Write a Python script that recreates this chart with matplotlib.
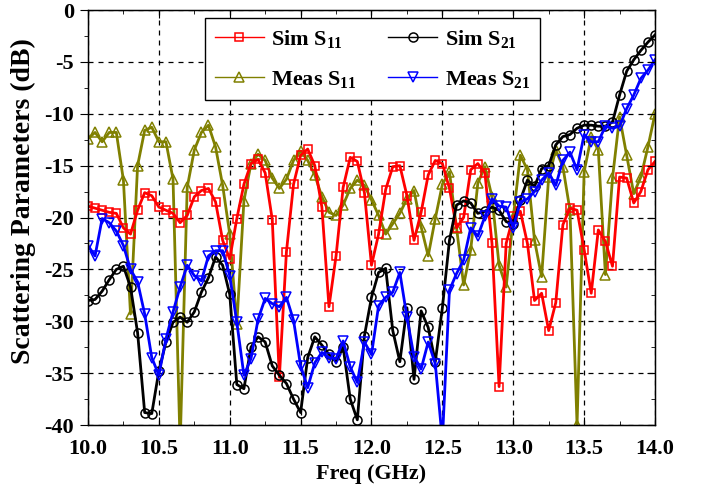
import numpy as np
import matplotlib
matplotlib.use("Agg")
import matplotlib.pyplot as plt

plt.rcParams["font.family"] = "Liberation Serif"
plt.rcParams["font.weight"] = "bold"
plt.rcParams["mathtext.fontset"] = "custom"
plt.rcParams["mathtext.rm"] = "Liberation Serif:bold"
plt.rcParams["mathtext.it"] = "Liberation Serif:bold"
plt.rcParams["mathtext.bf"] = "Liberation Serif:bold"
plt.rcParams["axes.unicode_minus"] = False

# frequency grid, 0.05 GHz step
freq = np.linspace(10.0, 14.0, 81)

sim_s11 = [
    -18.9, -19.1, -19.3, -19.5, -19.6, -21.0, -21.6, -19.3, -17.6, -17.9,
    -19.0, -19.3, -19.6, -20.5, -19.8, -18.0, -17.4, -17.2, -18.5, -22.2,
    -24.0, -20.1, -16.8, -14.8, -14.4, -15.7, -20.2, -35.4, -23.3, -16.8,
    -14.0, -13.4, -15.0, -19.0, -28.6, -23.7, -17.1, -14.2, -14.6, -17.6,
    -24.6, -21.6, -17.3, -15.1, -15.0, -17.9, -22.2, -19.5, -15.9, -14.5,
    -14.8, -17.2, -21.0, -20.0, -15.4, -14.8, -15.7, -22.5, -36.3, -22.5,
    -19.9, -19.4, -22.5, -28.0, -27.3, -30.9, -28.2, -20.7, -19.1, -19.3,
    -23.1, -27.3, -21.2, -22.3, -24.7, -16.1, -16.2, -18.6, -17.5, -15.4,
    -14.6,
]

meas_s11 = [
    -12.4, -11.8, -12.7, -11.8, -11.8, -16.4, -29.3, -15.0, -11.6, -11.3,
    -12.7, -12.7, -16.3, -42.0, -17.1, -13.5, -11.8, -11.1, -13.2, -16.9,
    -21.6, -30.3, -18.4, -14.8, -13.9, -14.5, -16.2, -17.2, -16.3, -14.5,
    -13.6, -14.5, -15.9, -18.0, -19.5, -19.8, -18.8, -17.2, -16.4, -16.9,
    -18.3, -19.8, -21.6, -20.6, -19.6, -18.2, -17.4, -20.9, -23.7, -20.1,
    -16.8, -15.6, -21.0, -26.5, -23.1, -16.7, -15.1, -18.0, -24.6, -26.7,
    -20.0, -14.0, -15.4, -22.2, -25.7, -16.1, -13.5, -15.1, -19.3, -40.0,
    -15.6, -12.2, -13.5, -25.5, -16.2, -10.3, -14.0, -17.7, -16.1, -13.2,
    -10.0,
]

sim_s21 = [
    -28.0, -27.9, -27.1, -26.0, -25.0, -24.7, -26.7, -31.1, -38.8, -38.9,
    -34.8, -32.0, -30.1, -29.6, -30.1, -29.1, -27.2, -25.8, -23.8, -24.6,
    -27.4, -36.1, -36.5, -32.5, -31.5, -32.0, -34.3, -35.2, -36.0, -37.5,
    -38.8, -33.5, -31.5, -32.3, -33.2, -33.9, -32.5, -37.5, -39.5, -31.4,
    -27.7, -25.3, -24.9, -30.9, -33.9, -28.7, -35.6, -29.0, -30.6, -33.9,
    -28.7, -22.2, -18.8, -18.4, -18.6, -19.6, -19.4, -19.0, -19.3, -20.4,
    -20.6, -18.3, -16.4, -17.0, -15.3, -15.0, -13.0, -12.2, -12.0, -11.4,
    -11.1, -11.1, -11.2, -11.2, -10.8, -8.2, -5.9, -4.8, -3.9, -3.1,
    -2.4,
]

meas_s21 = [
    -22.7, -23.7, -20.1, -20.5, -21.3, -22.7, -25.0, -26.2, -29.3, -33.5,
    -35.2, -31.7, -29.1, -26.7, -24.6, -25.6, -26.1, -23.7, -23.2, -23.2,
    -25.6, -30.1, -35.2, -33.6, -29.8, -27.8, -28.3, -28.6, -27.7, -29.9,
    -34.3, -36.4, -34.0, -33.0, -33.5, -33.6, -31.9, -34.4, -35.9, -32.0,
    -33.2, -28.5, -27.7, -27.2, -25.3, -29.6, -33.4, -34.6, -32.0, -34.1,
    -41.5, -27.0, -25.4, -24.1, -21.0, -21.8, -19.9, -18.2, -18.9, -19.0,
    -21.0, -18.5, -18.2, -17.5, -16.4, -15.7, -16.9, -14.5, -13.7, -15.4,
    -12.0, -12.7, -12.7, -11.2, -11.4, -11.2, -9.5, -8.2, -6.6, -5.8,
    -4.8,
]

fig = plt.figure(figsize=(7.01, 4.91), dpi=100)
ax = fig.add_axes([0.1255, 0.1344, 0.8089, 0.8452])

olive = "#808000"
h_ms11, = ax.plot(freq, meas_s11, "-^", color=olive, lw=2, ms=7.5, mfc="none",
                  mew=1.1, label="Meas S$_{11}$")
h_ss11, = ax.plot(freq, sim_s11, "-s", color="red", lw=2, ms=6, mfc="none",
                  mew=1.1, label="Sim S$_{11}$")
h_ss21, = ax.plot(freq, sim_s21, "-o", color="black", lw=2, ms=6.5, mfc="none",
                  mew=1.1, label="Sim S$_{21}$")
h_ms21, = ax.plot(freq, meas_s21, "-v", color="blue", lw=2, ms=7.5, mfc="none",
                  mew=1.1, label="Meas S$_{21}$")

ax.set_xlim(10, 14)
ax.set_ylim(-40, 0)
xt = np.arange(10, 14.01, 0.5)
ax.set_xticks(xt)
ax.set_xticks(np.arange(10, 14.01, 0.25), minor=True)
ax.set_yticks(np.arange(-40, 0.1, 5))
ax.set_yticks(np.arange(-40, 0.1, 2.5), minor=True)
ax.set_xticklabels([f"{v:.1f}" for v in xt])
ax.grid(True, which="major", ls=(0, (4, 4)), color="black", lw=0.9)

ax.tick_params(axis="x", which="both", direction="in", top=True,
               labelsize=16, pad=10)
ax.tick_params(axis="y", which="both", direction="out", labelsize=16, pad=4)
ax.tick_params(which="major", length=6)
ax.tick_params(which="minor", length=3)
for s in ax.spines.values():
    s.set_linewidth(1.0)

# inward ticks on the right frame
axr = ax.twinx()
axr.set_ylim(-40, 0)
axr.set_yticks(np.arange(-40, 0.1, 5))
axr.set_yticks(np.arange(-40, 0.1, 2.5), minor=True)
axr.tick_params(axis="y", which="both", direction="in", labelright=False)
axr.tick_params(which="major", length=6)
axr.tick_params(which="minor", length=3)

ax.set_xlabel("Freq (GHz)", fontsize=16, fontweight="bold", labelpad=4)
ax.set_ylabel("Scattering Parameters (dB)", fontsize=20, fontweight="bold")
ax.yaxis.set_label_coords(-0.092, 0.54)

leg = ax.legend(handles=[h_ss11, h_ms11, h_ss21, h_ms21], ncol=2,
                loc="upper left", bbox_to_anchor=(0.206, 0.981),
                borderaxespad=0, fontsize=16, frameon=True, fancybox=False,
                framealpha=1, edgecolor="black", handlelength=2.2,
                columnspacing=1.4, handletextpad=0.35, borderpad=0.45,
                labelspacing=0.85)
leg.get_frame().set_linewidth(1.0)
leg.set_zorder(5)
for h in leg.legend_handles:
    h.set_linewidth(1)

fig.savefig("out.png", dpi=100)
